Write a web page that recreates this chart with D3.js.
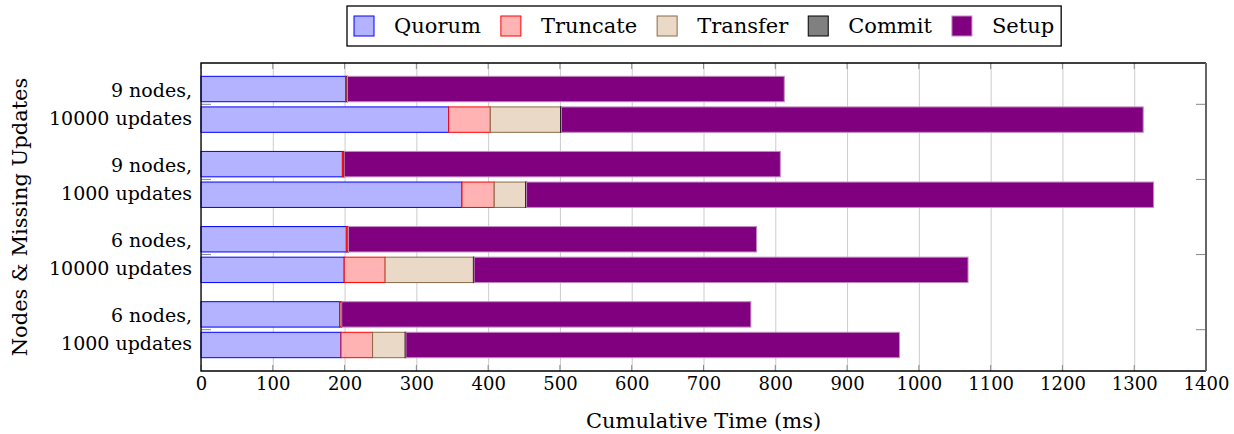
<!DOCTYPE html>
<html>
<head>
<meta charset="utf-8">
<script src="https://cdn.jsdelivr.net/npm/d3@7"></script>
<style>
  body { margin: 0; background: #fff; }
  svg text { font-family: "DejaVu Serif", serif; fill: #000; }
</style>
</head>
<body>
<svg id="chart" width="1234" height="434"></svg>
<script>
// categories, top to bottom; each one has an upper and a lower bar
const groups = ['9 nodes,|10000 updates', '9 nodes,|1000 updates', '6 nodes,|10000 updates', '6 nodes,|1000 updates'];
const rows = ['upper', 'lower'];
const phases = ['Quorum', 'Truncate', 'Transfer', 'Commit', 'Setup'];

// values in ms, per group: [upper bar, lower bar]
const quorum   = [[201.5, 345], [197, 363.5], [202.5, 199.5], [193, 195]];
const truncate = [[2, 58], [2, 45], [2.5, 57], [2.5, 44]];
const transfer = [[0, 98], [0, 44], [0, 123], [0, 45.5]];
const commit   = [[0.5, 1], [0.5, 1], [0.5, 1], [0.5, 1]];
const setup    = [[608.5, 810.5], [607.5, 873.5], [568.5, 688], [570, 687.5]];

const xTicks = [0, 100, 200, 300, 400, 500, 600, 700, 800, 900, 1000, 1100, 1200, 1300, 1400];

const colors = {
  Quorum:   { fill: '#b3b3ff', stroke: '#0000ff' },
  Truncate: { fill: '#ffb3b3', stroke: '#ff0000' },
  Transfer: { fill: '#ead9c6', stroke: '#8c6a48' },
  Commit:   { fill: '#808080', stroke: '#000000' },
  Setup:    { fill: '#800080', stroke: '#c08cc0' }
};

const seriesByPhase = { Quorum: quorum, Truncate: truncate, Transfer: transfer, Commit: commit, Setup: setup };

const records = [];
groups.forEach((g, gi) => {
  rows.forEach((r, ri) => {
    const rec = { group: g, row: r };
    phases.forEach(p => { rec[p] = seriesByPhase[p][gi][ri]; });
    records.push(rec);
  });
});

const svg = d3.select('#chart');
const plotLeft = 201, plotRight = 1206, plotTop = 63, plotBottom = 371;

const x = d3.scaleLinear().domain([0, 1400]).range([plotLeft, plotRight]);
const y = d3.scalePoint().domain(groups).range([plotTop, plotBottom]).padding(0.55);
const sub = d3.scaleBand().domain(rows).range([-28, 28]).paddingInner(0.17);

// vertical grid
const grid = svg.append('g')
  .attr('transform', 'translate(0,' + plotBottom + ')')
  .call(d3.axisBottom(x).tickValues(xTicks).tickSize(-(plotBottom - plotTop)).tickFormat(''));
grid.select('.domain').remove();
grid.selectAll('line').attr('stroke', '#cccccc').attr('stroke-width', 1);

// stacked bars
const stacked = d3.stack().keys(phases)(records);

svg.append('g').selectAll('g')
  .data(stacked)
  .enter().append('g')
  .attr('fill', d => colors[d.key].fill)
  .attr('stroke', d => colors[d.key].stroke)
  .attr('stroke-width', 1)
  .selectAll('rect')
  .data(d => d)
  .enter().append('rect')
  .attr('x', d => x(d[0]))
  .attr('width', d => Math.max(0, x(d[1]) - x(d[0])))
  .attr('y', d => y(d.data.group) + sub(d.data.row))
  .attr('height', sub.bandwidth())
  .style('display', d => (d[1] - d[0]) > 0 ? null : 'none');

// tick marks inside the box
const tickG = svg.append('g').attr('stroke', '#888').attr('stroke-width', 1);
xTicks.forEach(t => {
  tickG.append('line').attr('x1', x(t)).attr('x2', x(t)).attr('y1', plotBottom).attr('y2', plotBottom - 6);
  tickG.append('line').attr('x1', x(t)).attr('x2', x(t)).attr('y1', plotTop).attr('y2', plotTop + 6);
});
groups.forEach(g => {
  tickG.append('line').attr('x1', plotLeft).attr('x2', plotLeft + 10).attr('y1', y(g)).attr('y2', y(g));
  tickG.append('line').attr('x1', plotRight - 10).attr('x2', plotRight).attr('y1', y(g)).attr('y2', y(g));
});

// axis box
svg.append('path')
  .attr('d', `M${plotRight},${plotTop}H${plotLeft}V${plotBottom}H${plotRight}`)
  .attr('fill', 'none').attr('stroke', '#000').attr('stroke-width', 1.3);
svg.append('line')
  .attr('x1', plotRight).attr('x2', plotRight).attr('y1', plotTop).attr('y2', plotBottom)
  .attr('stroke', '#666').attr('stroke-width', 2);

// x tick labels
const xAxis = svg.append('g')
  .attr('transform', 'translate(0,' + plotBottom + ')')
  .call(d3.axisBottom(x).tickValues(xTicks).tickSize(0).tickPadding(6).tickFormat(d3.format('d')));
xAxis.select('.domain').remove();
xAxis.selectAll('text')
  .style('font-family', '"DejaVu Serif", serif')
  .style('font-size', '18px');

// y category labels (two lines, centred on the category)
groups.forEach(g => {
  const lines = g.split('|');
  lines.forEach((line, i) => {
    svg.append('text')
      .attr('x', 192)
      .attr('y', y(g) + (i === 0 ? -14 : 14))
      .attr('dy', '0.35em')
      .attr('text-anchor', 'end')
      .style('font-size', '19px')
      .text(line);
  });
});

// axis titles
svg.append('text')
  .attr('x', (plotLeft + plotRight) / 2)
  .attr('y', 428)
  .attr('text-anchor', 'middle')
  .style('font-size', '21px')
  .text('Cumulative Time (ms)');

svg.append('text')
  .attr('transform', `translate(27,${(plotTop + plotBottom) / 2}) rotate(-90)`)
  .attr('text-anchor', 'middle')
  .style('font-size', '21px')
  .text('Nodes & Missing Updates');

// legend
const legend = svg.append('g');
const legendBox = legend.append('rect')
  .attr('y', 6).attr('height', 40)
  .attr('fill', '#fff').attr('stroke', '#000').attr('stroke-width', 1.3);
let lx = 354;
phases.forEach(p => {
  legend.append('rect')
    .attr('x', lx).attr('y', 16).attr('width', 20).attr('height', 20)
    .attr('fill', colors[p].fill).attr('stroke', colors[p].stroke).attr('stroke-width', 1);
  const t = legend.append('text')
    .attr('x', lx + 40).attr('y', 26).attr('dy', '0.35em')
    .style('font-size', '21px')
    .text(p);
  lx = lx + 40 + t.node().getComputedTextLength() + 20;
});
legendBox.attr('x', 347).attr('width', lx - 20 + 7 - 347);
</script>
</body>
</html>
